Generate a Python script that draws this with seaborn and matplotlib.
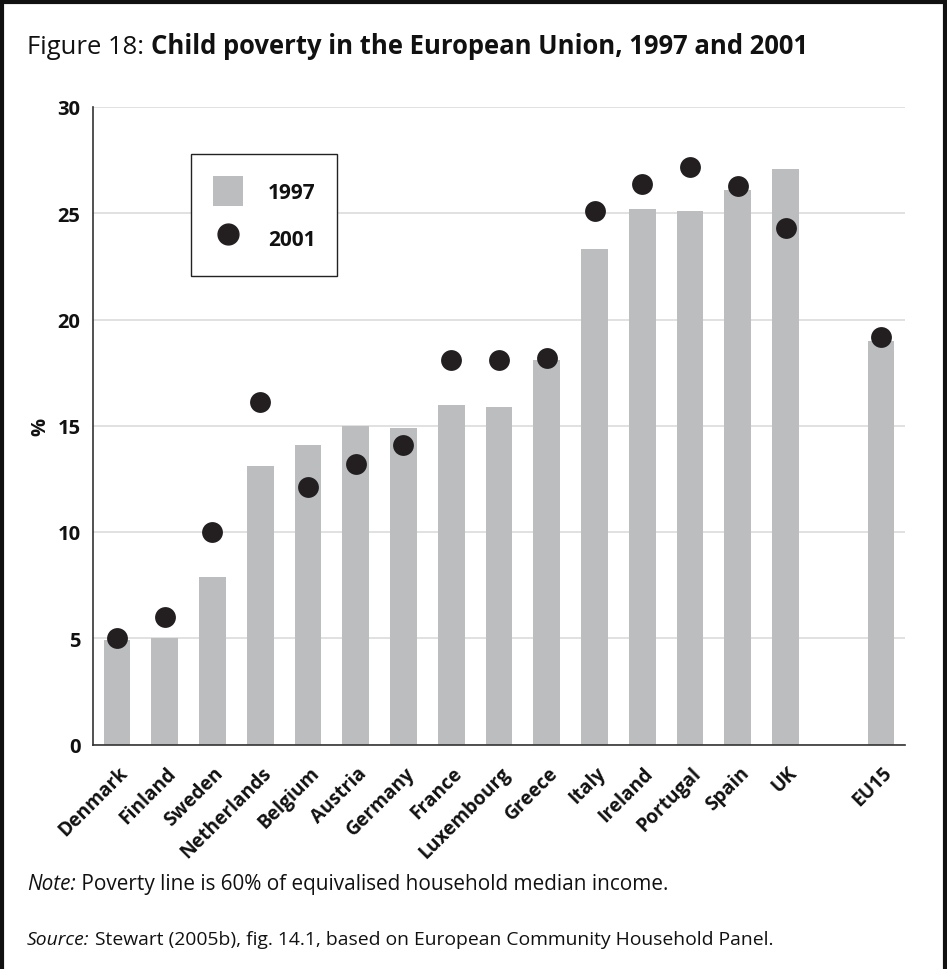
import matplotlib
matplotlib.use("Agg")
import matplotlib.pyplot as plt
import matplotlib.transforms as mtransforms
import seaborn as sns
import pandas as pd
import numpy as np
from matplotlib.patches import Patch
from matplotlib.lines import Line2D

countries = ["Denmark", "Finland", "Sweden", "Netherlands", "Belgium", "Austria",
             "Germany", "France", "Luxembourg", "Greece", "Italy", "Ireland",
             "Portugal", "Spain", "UK", " ", "EU15"]
v1997 = [4.9, 5.0, 7.9, 13.1, 14.1, 15.0, 14.9, 16.0, 15.9, 18.1, 23.3, 25.2,
         25.1, 26.1, 27.1, np.nan, 19.0]
v2001 = [5.0, 6.0, 10.0, 16.1, 12.1, 13.2, 14.1, 18.1, 18.1, 18.2, 25.1, 26.4,
         27.2, 26.3, 24.3, np.nan, 19.2]
yticks = [0, 5, 10, 15, 20, 25, 30]

title_a = "Figure 18: "
title_b = "Child poverty in the European Union, 1997 and 2001"
note_a = "Note:"
note_b = " Poverty line is 60% of equivalised household median income."
src_a = "Source:"
src_b = " Stewart (2005b), fig. 14.1, based on European Community Household Panel."

df = pd.DataFrame({"country": countries, "y1997": v1997, "y2001": v2001})

BAR = "#bcbdbf"
DOT = "#231f20"
TXT = "#111111"

sns.set_theme(style="white")
plt.rcParams["font.family"] = ["Open Sans", "DejaVu Sans"]

W, H = 947, 970
fig = plt.figure(figsize=(W / 100, H / 100), dpi=100)
ax = fig.add_axes([93 / W, 1 - 745.5 / H, (905 - 93) / W, (745.5 - 108) / H])

sns.barplot(data=df, x="country", y="y1997", order=countries, color=BAR,
            width=0.56, saturation=1, linewidth=0, edgecolor="none", ax=ax, zorder=2)
sns.stripplot(data=df, x="country", y="y2001", order=countries, jitter=False,
              size=15, color=DOT, linewidth=0, ax=ax, zorder=3)

ax.set_xlim(-0.5, len(countries) - 0.5)
ax.set_ylim(0, 30)
ax.set_yticks(yticks)
ax.set_yticklabels([str(t) for t in yticks], fontweight="bold", fontsize=14.5, color=TXT)
ax.yaxis.grid(True, color="#dcdcdc", linewidth=1.2, zorder=0)
ax.set_axisbelow(True)
ax.tick_params(axis="y", length=0, pad=9)
ax.tick_params(axis="x", length=0, pad=13)
ax.set_xticks(range(len(countries)))
ax.set_xticklabels(countries, rotation=45, ha="right", rotation_mode="anchor",
                   fontweight="bold", fontsize=13.8, color=TXT)
offset = mtransforms.ScaledTranslation(1 / 100, 0, fig.dpi_scale_trans)
for lab in ax.get_xticklabels():
    lab.set_transform(lab.get_transform() + offset)
ax.set_xlabel("")
ax.set_ylabel("%", fontweight="bold", fontsize=14.5, labelpad=5, color=TXT)
for s in ["top", "right"]:
    ax.spines[s].set_visible(False)
for s in ["left", "bottom"]:
    ax.spines[s].set_color("#333333")
    ax.spines[s].set_linewidth(1.2)

handles = [Patch(facecolor=BAR, edgecolor="none", label="1997"),
           Line2D([], [], marker="o", linestyle="none", markersize=15,
                  markerfacecolor=DOT, markeredgecolor=DOT, label="2001")]
leg = fig.legend(handles=handles, loc="upper left",
                 bbox_to_anchor=(191 / W, 1 - 155 / H),
                 prop={"weight": "bold", "size": 15},
                 handlelength=1.44, handleheight=1.84, handletextpad=1.2,
                 labelspacing=0.85, borderpad=1.05, borderaxespad=0,
                 frameon=True, fancybox=False, framealpha=1)
leg.get_frame().set_edgecolor("#222222")
leg.get_frame().set_linewidth(1.0)
for t in leg.get_texts():
    t.set_color(TXT)

# Title and notes, fitted to the reference widths
fig.canvas.draw()
r = fig.canvas.get_renderer()

def two_part(x0, x1, y, a, b, size, wa, sa, wb, sb):
    for _ in range(3):
        t1 = fig.text(x0 / W, 1 - y / H, a, fontsize=size, fontweight=wa, fontstyle=sa,
                      va="center", ha="left", color=TXT)
        bb = t1.get_window_extent(renderer=r)
        t2 = fig.text(bb.x1 / W, 1 - y / H, b, fontsize=size, fontweight=wb, fontstyle=sb,
                      va="center", ha="left", color=TXT)
        bb2 = t2.get_window_extent(renderer=r)
        width = bb2.x1 - bb.x0
        target = x1 - x0
        if abs(width - target) < 1.5:
            break
        t1.remove()
        t2.remove()
        size = size * target / width

two_part(27, 808, 47, title_a, title_b, 18.5, "normal", "normal", "bold", "normal")
two_part(27, 668, 885, note_a, note_b, 15, "normal", "italic", "normal", "normal")
two_part(27, 773, 940, src_a, src_b, 14, "normal", "italic", "normal", "normal")

# Figure frame
for (x0, y0, x1, y1) in [(0, 1 - 2.5 / H, 1, 1 - 2.5 / H),
                         (1.5 / W, 0, 1.5 / W, 1),
                         (1 - 2 / W, 0, 1 - 2 / W, 1)]:
    fig.add_artist(Line2D([x0, x1], [y0, y1], color="#111111", linewidth=3,
                          transform=fig.transFigure))

fig.savefig("out.png", dpi=100)
